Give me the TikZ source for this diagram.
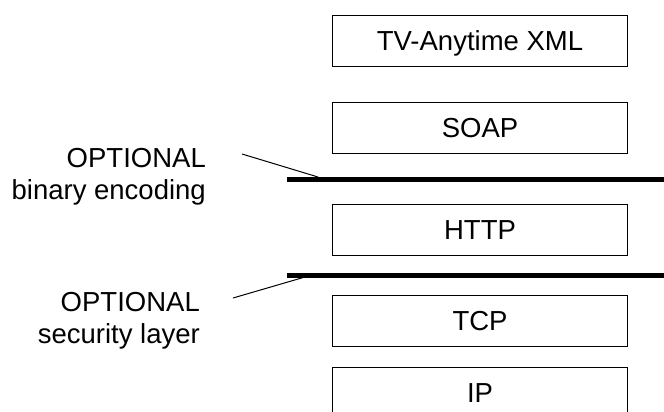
\documentclass[tikz,border=0pt]{standalone}
\usepackage{fontspec}
\setmainfont{Liberation Sans}
\usetikzlibrary{positioning}
\tikzset{
layer/.style={
  rectangle,
  draw=black,
  line width=1pt,
  minimum width=295pt,
  minimum height=51pt,
  inner sep=0pt,
  text height=19.5pt,
  text depth=0pt,
  font=\fontsize{27.5}{32}\selectfont
  },
note/.style={
  align=right,
  inner sep=0pt,
  anchor=north east,
  font=\fontsize{27.5}{32}\selectfont
  },
bar/.style={line width=5pt},
lead/.style={line width=1pt}
}
\begin{document}
\begin{tikzpicture}[x=1pt,y=-1pt]
\useasboundingbox (0,0) rectangle (664,412);
\clip (0,0) rectangle (664,412);

\node[layer] at (480,41) (xml) {TV-Anytime XML};
\node[layer,below=35pt of xml] (soap) {SOAP};
\node[layer,below=50pt of soap] (http) {HTTP};
\node[layer,below=39pt of http] (tcp) {TCP};
\node[layer,below=20pt of tcp] (ip) {IP};

\coordinate (enc-l) at (287,179);
\coordinate (enc-r) at (664,179);
\coordinate (sec-l) at (287,275);
\coordinate (sec-r) at (664,275);
\draw[bar] (enc-l) -- (enc-r);
\draw[bar] (sec-l) -- (sec-r);

\node[note] at (206,148) (enc) {OPTIONAL\\binary encoding};
\node[note] at (200,292) (sec) {OPTIONAL\\security layer};

\coordinate (enc-a) at (242,154);
\coordinate (enc-b) at (318,177);
\coordinate (sec-a) at (233,298);
\coordinate (sec-b) at (305,277);
\draw[lead] (enc-a) -- (enc-b);
\draw[lead] (sec-a) -- (sec-b);

\end{tikzpicture}
\end{document}
